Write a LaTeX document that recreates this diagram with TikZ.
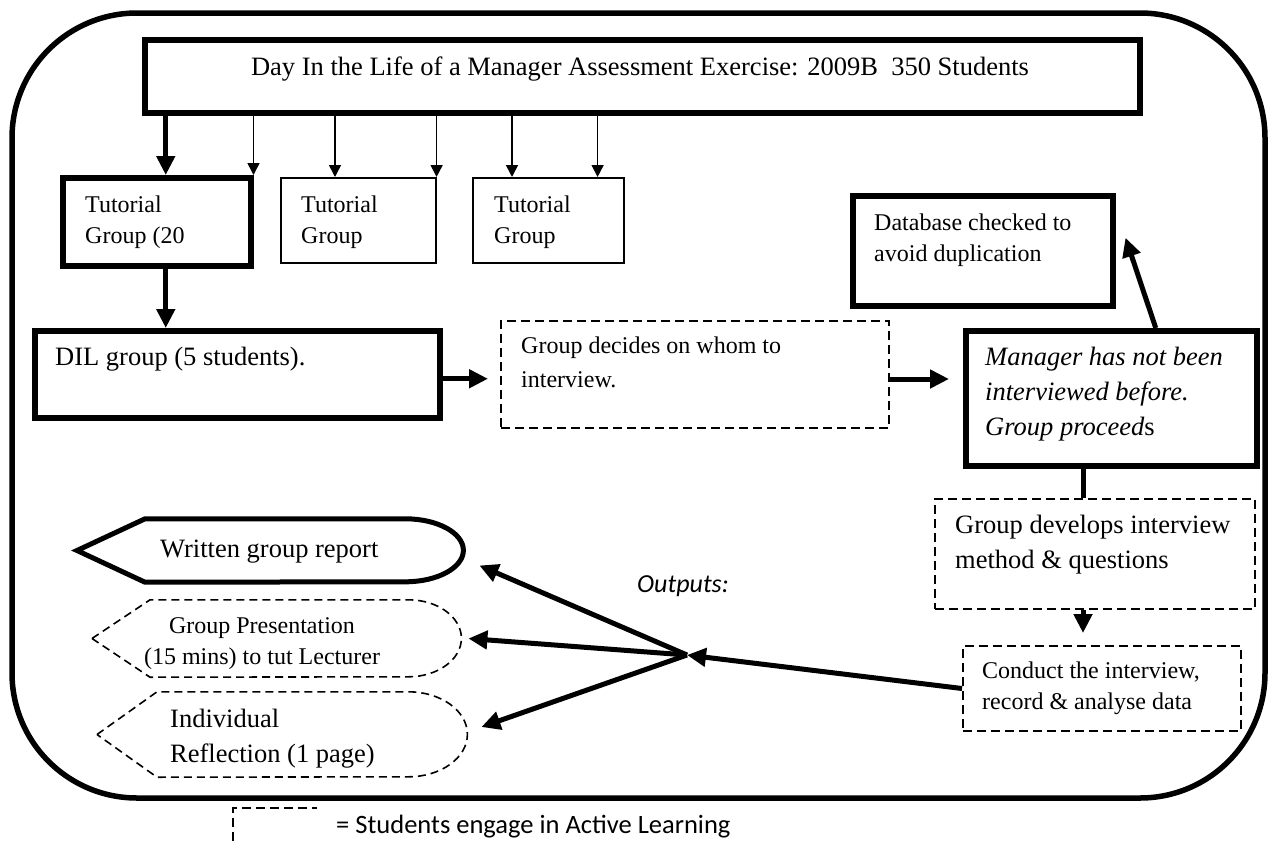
\documentclass[tikz,border=0pt]{standalone}
\usepackage{fontspec}
\setmainfont{Liberation Serif}
\newfontfamily\calibri{Carlito}
\usetikzlibrary{arrows.meta}

\newcommand{\smalltxt}{\fontsize{24}{31}\selectfont}
\newcommand{\bigtxt}{\fontsize{26.5}{35}\selectfont}

\tikzset{
  heavybox/.style={draw, line width=5.5pt, anchor=north west, inner sep=0pt},
  lightbox/.style={draw, line width=1.6pt, anchor=north west, inner sep=0pt},
  activebox/.style={draw, line width=2pt, dash pattern=on 9pt off 5pt, anchor=north west, inner sep=0pt},
  boxtext/.style={anchor=north west, align=left, inner sep=0pt},
  linetext/.style={anchor=base west, inner sep=0pt},
  bigarrow/.style={line width=5pt, -{Triangle[length=19pt,width=18pt]}},
  slimarrow/.style={line width=1.6pt, -{Triangle[length=12pt,width=12pt]}},
}

\begin{document}
\begin{tikzpicture}[x=1pt,y=-1pt]
\useasboundingbox (0,0) rectangle (1270,841);
% outer frame
\draw[line width=5.5pt, rounded corners=125pt] (12,13) rectangle (1265,798);

% boxes
\node[heavybox, minimum width=995pt, minimum height=73pt] (title) at (142,37) {};
\node[heavybox, minimum width=188pt, minimum height=88pt] (tut1) at (60,175) {};
\node[lightbox, minimum width=155pt, minimum height=85pt] (tut2) at (280,177) {};
\node[lightbox, minimum width=151pt, minimum height=85pt] (tut3) at (472,177) {};
\node[heavybox, minimum width=405pt, minimum height=87pt] (dil) at (32,328) {};
\node[activebox, minimum width=388pt, minimum height=107pt] (decides) at (500,320) {};
\node[heavybox, minimum width=260pt, minimum height=110pt] (database) at (850,193) {};
\node[heavybox, minimum width=291pt, minimum height=135pt] (manager) at (963,328) {};
\node[activebox, minimum width=320pt, minimum height=110pt] (develops) at (934,498) {};
\node[activebox, minimum width=278pt, minimum height=85pt] (conduct) at (962,645) {};

% box texts
\node[anchor=base, inner sep=0pt, font=\bigtxt] (titletxt) at (640,75) {Day In the Life of a Manager Assessment Exercise: 2009B\ \ 350 Students};
\node[boxtext, font=\smalltxt] (tut1txt) at (85,196) {Tutorial\\Group (20};
\node[boxtext, font=\smalltxt] (tut2txt) at (301,196) {Tutorial\\Group};
\node[boxtext, font=\smalltxt] (tut3txt) at (494,196) {Tutorial\\Group};
\node[linetext, font=\bigtxt] (diltxt) at (55,365) {DIL group (5 students).};
\node[boxtext, font=\smalltxt] (decidestxt) at (521,337) {Group decides on whom to\\[3pt]interview.};
\node[boxtext, font=\smalltxt] (dbtxt) at (874,214) {Database checked to\\avoid duplication};
\node[boxtext, font=\bigtxt\itshape] (mgrtxt) at (985,347) {Manager has not been\\interviewed before.\\Group proceed\textup{s}};
\node[boxtext, font=\bigtxt] (devtxt) at (955,515) {Group develops interview\\method \& questions};
\node[boxtext, font=\smalltxt] (condtxt) at (982,662) {Conduct the interview,\\record \& analyse data};

% outputs
\node[minimum width=386pt, minimum height=63pt, anchor=west, inner sep=0pt] (report) at (77,550.5) {};
\node[minimum width=369pt, minimum height=77pt, anchor=west, inner sep=0pt] (present) at (92,638.5) {};
\node[minimum width=370pt, minimum height=85pt, anchor=west, inner sep=0pt] (reflect) at (97,734.5) {};
\draw[line width=5pt] (report.west) -- ([xshift=68pt]report.north west) -- ([xshift=-58pt]report.north east)
  arc[start angle=-90, end angle=90, x radius=58, y radius=31.5] -- ([xshift=68pt]report.south west) -- cycle;
\draw[line width=1.6pt, dash pattern=on 8pt off 5pt] (present.west) -- ([xshift=58pt]present.north west) -- ([xshift=-53pt]present.north east)
  arc[start angle=-90, end angle=90, x radius=53, y radius=38.5] -- ([xshift=58pt]present.south west) -- cycle;
\draw[line width=1.6pt, dash pattern=on 8pt off 5pt] (reflect.west) -- ([xshift=60pt]reflect.north west) -- ([xshift=-59pt]reflect.north east)
  arc[start angle=-90, end angle=90, x radius=59, y radius=42.5] -- ([xshift=60pt]reflect.south west) -- cycle;
\node[linetext, font=\bigtxt] (reporttxt) at (160,557) {Written group report};
\node[anchor=north, align=center, inner sep=0pt, font=\smalltxt] (presenttxt) at (262,617) {Group Presentation\\(15 mins) to tut Lecturer};
\node[boxtext, font=\bigtxt] (reflecttxt) at (170,709) {Individual\\Reflection (1 page)};
\node[linetext, font=\calibri\itshape\fontsize{26}{30}\selectfont] (outputs) at (637,592) {Outputs:};

% arrows
\draw[bigarrow] ([xshift=9pt]tut1.north |- title.south) -- ([xshift=9pt]tut1.north);
\draw[slimarrow] (tut1.north east |- title.south) -- (tut1.north east);
\draw[slimarrow] ([xshift=55pt]tut2.north west |- title.south) -- ([xshift=55pt]tut2.north west);
\draw[slimarrow] (tut2.north east |- title.south) -- (tut2.north east);
\draw[slimarrow] ([xshift=40pt]tut3.north west |- title.south) -- ([xshift=40pt]tut3.north west);
\draw[slimarrow] ([xshift=-27pt]tut3.north east |- title.south) -- ([xshift=-27pt]tut3.north east);
\draw[bigarrow] ([xshift=9pt]tut1.south) -- ([xshift=9pt]tut1.south |- dil.north);
\draw[bigarrow, shorten >=12pt] ([yshift=-4.5pt]dil.east) -- ([yshift=-4.5pt]dil.east -| decides.west);
\draw[bigarrow, shorten >=14pt] ([yshift=-4.5pt]decides.east) -- ([yshift=-4.5pt]decides.east -| manager.west);
\draw[bigarrow] ([xshift=44.5pt]manager.north) -- ([xshift=10pt,yshift=13pt]database.east);
\coordinate (spine) at (1083,0);
\draw[line width=5pt] (manager.south -| spine) -- (develops.north -| spine);
\draw[bigarrow, shorten >=12pt] (develops.south -| spine) -- (conduct.north -| spine);
\coordinate (hub) at (687,655);
\draw[bigarrow] (conduct.west) -- (hub);
\draw[bigarrow] (hub) -- ([xshift=16pt,yshift=-15pt]report.east);
\draw[bigarrow] (hub) -- ([xshift=7pt]present.east);
\draw[bigarrow] (hub) -- ([xshift=14pt,yshift=7.5pt]reflect.east);

% legend
\draw[line width=2pt, dash pattern=on 9pt off 5pt] (233,841) -- (233,808) -- (317,808);
\node[linetext, font=\calibri\fontsize{26.5}{30}\selectfont] (legend) at (336,833) {= Students engage in Active Learning};
\end{tikzpicture}
\end{document}
